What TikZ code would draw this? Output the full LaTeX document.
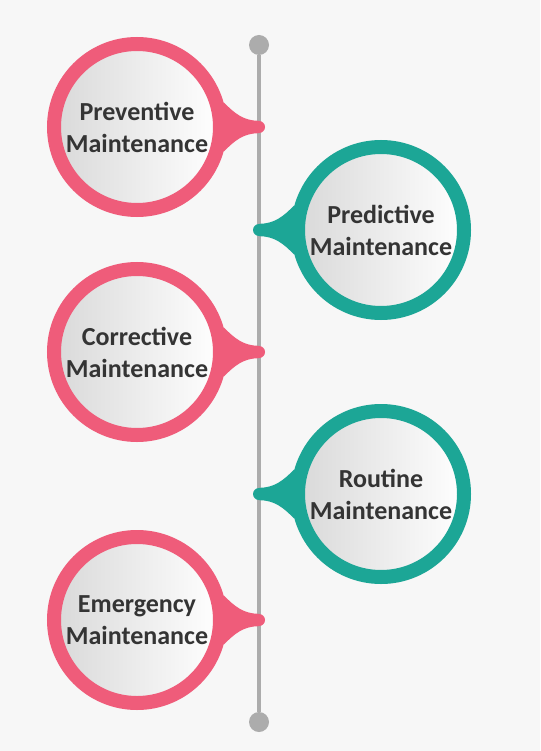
\documentclass[tikz,border=0pt]{standalone}
\usepackage{fontspec}
\setmainfont{Carlito}
\usetikzlibrary{positioning,backgrounds}
\definecolor{rose}{RGB}{239,92,122}
\definecolor{sea}{RGB}{28,166,150}
\definecolor{rail}{RGB}{172,172,172}
\definecolor{paper}{RGB}{247,247,247}
\definecolor{ink}{RGB}{52,52,52}
\tikzset{
  bubble/.style={circle,minimum size=166pt,inner sep=0pt,line width=14pt,
    left color=black!15,right color=white,align=center,text=ink,
    font=\bfseries\fontsize{26}{32}\selectfont},
  pinkbubble/.style={bubble,draw=rose},
  tealbubble/.style={bubble,draw=sea},
  knot/.style={circle,minimum size=12pt,inner sep=0pt},
  pinkknot/.style={knot,fill=rose},
  tealknot/.style={knot,fill=sea},
  endknot/.style={circle,minimum size=20pt,inner sep=0pt,fill=rail}
}
\begin{document}
\begin{tikzpicture}[x=1pt,y=-1pt,on grid]
   \useasboundingbox (0,0) rectangle (540,751);
   \node[pinkbubble] (prev) at (137,127) {Preventive\\Maintenance};
   \node[tealbubble] (pred) [below right=103pt and 244pt of prev] {Predictive\\Maintenance};
   \node[pinkbubble] (corr) [below left=122pt and 244pt of pred] {Corrective\\Maintenance};
   \node[tealbubble] (rout) [below right=142pt and 244pt of corr] {Routine\\Maintenance};
   \node[pinkbubble] (emer) [below left=126pt and 244pt of rout] {Emergency\\Maintenance};
   \node[pinkknot] (prevdot) [right=122pt of prev] {};
   \node[tealknot] (preddot) [left=122pt of pred] {};
   \node[pinkknot] (corrdot) [right=122pt of corr] {};
   \node[tealknot] (routdot) [left=122pt of rout] {};
   \node[pinkknot] (emerdot) [right=122pt of emer] {};
   \node[endknot] (top) [above=82pt of prevdot] {};
   \node[endknot] (bottom) [below=102pt of emerdot] {};
   \begin{scope}[on background layer]
     \fill[paper] (0,0) rectangle (540,751);
     \draw[rail,line width=4pt] (top) -- (bottom);
     \foreach \b in {prev,corr,emer}
       \fill[rose] (\b.16) to[out=-45,in=180] (\b dot.north) -- (\b dot.south)
         to[out=180,in=45] (\b.-16) -- cycle;
     \foreach \b in {pred,rout}
       \fill[sea] (\b.164) to[out=-135,in=0] (\b dot.north) -- (\b dot.south)
         to[out=0,in=135] (\b.196) -- cycle;
   \end{scope}
\end{tikzpicture}
\end{document}
